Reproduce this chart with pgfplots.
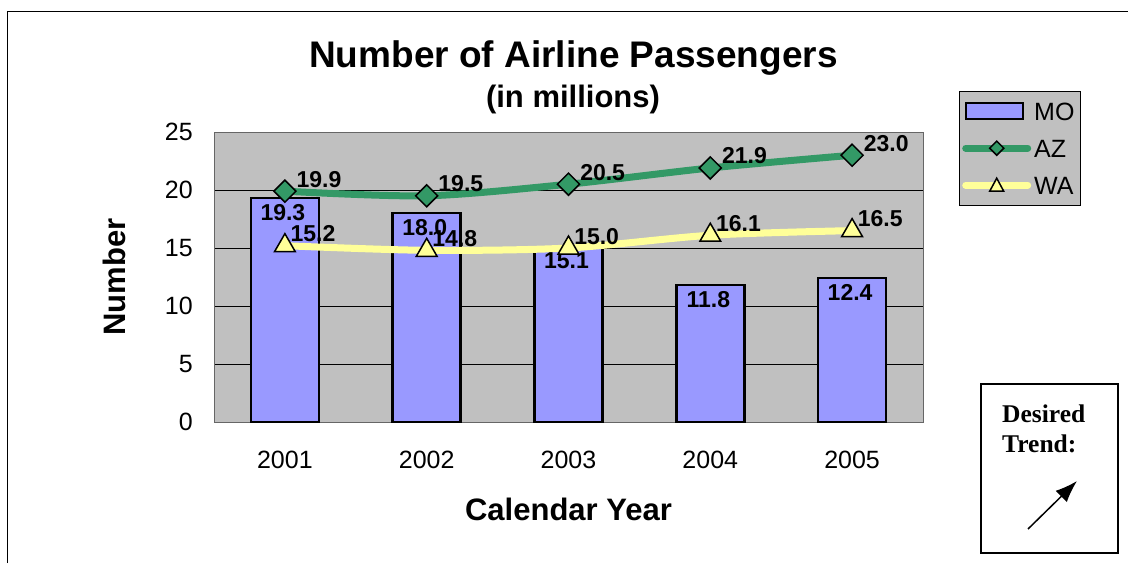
\documentclass[border=0pt]{standalone}
\usepackage{fontspec}
\setmainfont{Liberation Sans}
\newfontfamily\timesfont{Liberation Serif}
\usepackage{pgfplots}
\pgfplotsset{compat=1.18}
\usetikzlibrary{arrows.meta}

\definecolor{bggray}{RGB}{192,192,192}
\definecolor{barblue}{RGB}{153,153,255}
\definecolor{azgreen}{RGB}{51,153,102}
\definecolor{wayellow}{RGB}{255,255,153}
\newcommand{\fs}[1]{\fontsize{#1}{#1}\selectfont}

\begin{document}
\begin{tikzpicture}
\useasboundingbox (0pt,0pt) rectangle (1128pt,-563pt);
% outer chart frame
\draw[black, line width=1pt] (7pt,-563pt) -- (7pt,-11pt) -- (1128pt,-11pt);

\begin{axis}[
at={(214pt,-422pt)}, anchor=south west,
scale only axis,
width=709pt, height=290pt,
xmin=0.5, xmax=5.5,
ymin=0, ymax=25,
xtick={1,2,3,4,5},
xticklabels={2001,2002,2003,2004,2005},
ytick={0,5,10,15,20,25},
major tick length=0pt,
axis background/.style={fill=bggray},
axis line style={black!60, line width=1pt},
ymajorgrids,
y grid style={black, line width=0.8pt},
/pgf/number format/assume math mode=true,
tick label style={font=\fs{25}},
yticklabel style={anchor=east, inner sep=0pt, xshift=-21pt},
xticklabel style={anchor=north, inner sep=0pt, yshift=-29pt},
xlabel={\bfseries Calendar Year},
xlabel style={font=\fs{31}, at={(axis description cs:0.5,-0.30)}, anchor=center},
ylabel={\bfseries Number},
ylabel style={font=\fs{31}, at={(axis description cs:-0.141,0.5)}, anchor=center, rotate=0},
legend cell align=left,
legend style={at={(axis description cs:1.0508,1.1414)}, anchor=north west,
  draw=black, fill=bggray, font=\fs{25},
  inner xsep=3pt, inner ysep=10pt, row sep=17pt,
  nodes={inner xsep=3pt, inner ysep=1pt, text height=18pt, text depth=0pt}},
]
\addplot[ybar, bar width=68pt, fill=barblue, draw=black, line width=2.5pt,
  nodes near coords={\pgfmathprintnumber[fixed,fixed zerofill,precision=1]{\pgfplotspointmeta}},
  every node near coord/.append style={anchor=north, inner sep=0pt, xshift=-2pt, yshift=-5pt, font=\fs{23}\bfseries, black},
  legend image code/.code={\draw[fill=barblue, draw=black, line width=2pt] (0pt,-8pt) rectangle (57pt,8pt);}]
coordinates {(1,19.3) (2,18.0) (3,15.1) (4,11.8) (5,12.4)};
\addlegendentry{MO}

\addplot[smooth, azgreen, line width=7pt, line cap=round,
  mark=square*, mark size=7.8pt,
  mark options={rotate=45, fill=azgreen, draw=black, line width=1.5pt},
  nodes near coords={\pgfmathprintnumber[fixed,fixed zerofill,precision=1]{\pgfplotspointmeta}},
  every node near coord/.append style={anchor=south west, inner sep=0pt, xshift=11pt, yshift=3pt, font=\fs{23}\bfseries, black},
  legend image code/.code={
    \draw[azgreen, line width=7pt, line cap=round] (0pt,0pt) -- (62pt,0pt);
    \draw[fill=azgreen, draw=black, line width=1.5pt, rotate around={45:(31pt,0pt)}] (26pt,-5pt) rectangle (36pt,5pt);}]
coordinates {(1,19.9) (2,19.5) (3,20.5) (4,21.9) (5,23.0)};
\addlegendentry{AZ}

\addplot[smooth, wayellow, line width=7pt, line cap=round,
  mark=triangle*, mark size=12pt,
  mark options={fill=wayellow, draw=black, line width=1.5pt},
  nodes near coords={\pgfmathprintnumber[fixed,fixed zerofill,precision=1]{\pgfplotspointmeta}},
  every node near coord/.append style={anchor=south west, inner sep=0pt, xshift=5pt, yshift=3pt, font=\fs{23}\bfseries, black},
  legend image code/.code={
    \draw[wayellow, line width=7pt, line cap=round] (0pt,0pt) -- (62pt,0pt);
    \draw[fill=wayellow, draw=black, line width=1.5pt] (24pt,-6pt) -- (38pt,-6pt) -- (31pt,7pt) -- cycle;}]
coordinates {(1,15.2) (2,14.8) (3,15.0) (4,16.1) (5,16.5)};
\addlegendentry{WA}
\end{axis}

% titles
\node[font=\fs{37}\bfseries, anchor=base, inner sep=0pt] at (573.5pt,-67pt) {Number of Airline Passengers};
\node[font=\fs{31}\bfseries, anchor=base, inner sep=0pt] at (573pt,-107pt) {(in millions)};

% desired trend box
\draw[black, line width=2pt] (981pt,-384pt) rectangle (1118pt,-553pt);
\node[font=\timesfont\bfseries\fs{25.5}, anchor=base west, inner sep=0pt] at (1002pt,-422pt) {Desired};
\node[font=\timesfont\bfseries\fs{25.5}, anchor=base west, inner sep=0pt] at (1002pt,-452pt) {Trend:};
\draw[black, line width=1.5pt, -{Latex[length=22pt,width=16pt]}] (1028pt,-529pt) -- (1077pt,-481pt);
\end{tikzpicture}
\end{document}
